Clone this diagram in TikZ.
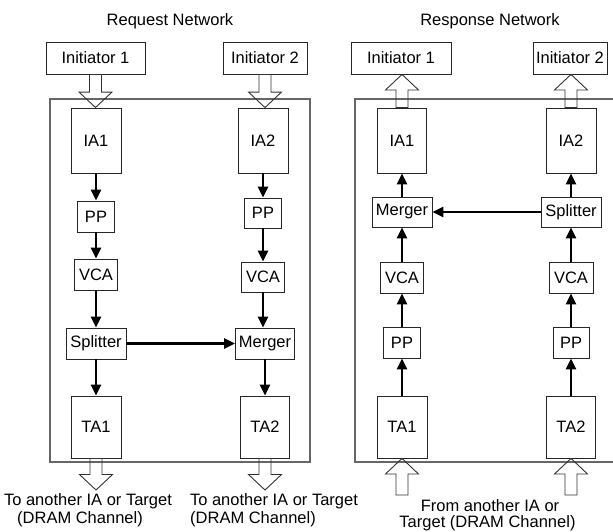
\documentclass[tikz,border=0pt]{standalone}
\usepackage{fontspec}
\setmainfont{Liberation Sans}
\usetikzlibrary{arrows.meta,calc}

% hollow block arrow from point #1 to tip #2 (vertical), drawn along x of #1
\newcommand\blockarrow[2]{%
  \draw[hollow] let \p1=#1, \p2=#2, \n1={(\y2>\y1)?1:-1} in
    ({\x1-6pt},\y1) -- ({\x1-6pt},{\y2-(\n1)*15.5pt})
    -- ({\x1-16.5pt},{\y2-(\n1)*15.5pt}) -- (\x1,\y2)
    -- ({\x1+16.5pt},{\y2-(\n1)*15.5pt}) -- ({\x1+6pt},{\y2-(\n1)*15.5pt})
    -- ({\x1+6pt},\y1) -- cycle;}

\begin{document}
\begin{tikzpicture}[x=1pt,y=-1pt,
  every node/.style={font=\fontsize{16.5}{19}\selectfont},
  box/.style={draw=black!85, line width=0.9pt, fill=white, inner sep=0pt},
  frame/.style={draw=black!60, line width=1.6pt},
  flow/.style={line width=2.8pt, -{Triangle[length=11pt,width=10pt]}},
  hollow/.style={draw=black!80, line width=0.9pt},
  title/.style={anchor=base}]
\useasboundingbox (0,0) rectangle (613,531);

% ---------------- Request network ----------------
\draw[frame] (50,99) rectangle (310,462);
\node[title] (tq) at (170,25) {Request Network};

\node[box, minimum width=99pt, minimum height=32pt] (qi1) at (95.5,58) {Initiator 1};
\node[box, minimum width=84pt, minimum height=32pt] (qi2) at (265,58) {Initiator 2};

\node[box, minimum width=50pt, minimum height=65pt] (qia1) at (96,140.5) {IA1};
\node[box, minimum width=50pt, minimum height=65pt] (qia2) at (263,140.5) {IA2};
\node[box, minimum width=37pt, minimum height=31pt] (qpp1) at (96,216.5) {PP};
\node[box, minimum width=37pt, minimum height=30pt] (qpp2) at (263,213) {PP};
\node[box, minimum width=43pt, minimum height=31pt] (qvca1) at (96,274.5) {VCA};
\node[box, minimum width=43pt, minimum height=30pt] (qvca2) at (263,277) {VCA};
\node[box, minimum width=60pt, minimum height=31pt] (qsp) at (96,343.5) {Splitter};
\node[box, minimum width=59pt, minimum height=31pt] (qme) at (265,343.5) {Merger};
\node[box, minimum width=50pt, minimum height=62pt] (qta1) at (96,427) {TA1};
\node[box, minimum width=49pt, minimum height=62pt] (qta2) at (265,427) {TA2};

\draw[flow] (qia1.south) -- (qia1.south |- qpp1.north);
\draw[flow] (qpp1.south) -- (qpp1.south |- qvca1.north);
\draw[flow] (qvca1.south) -- (qvca1.south |- qsp.north);
\draw[flow] (qsp.south) -- (qsp.south |- qta1.north);
\draw[flow] (qia2.south) -- (qia2.south |- qpp2.north);
\draw[flow] (qpp2.south) -- (qpp2.south |- qvca2.north);
\draw[flow] (qvca2.south) -- (qvca2.south |- qme.north);
\draw[flow] (qme.south) -- (qme.south |- qta2.north);
\draw[flow] (qsp.east) -- (qme.west);

\coordinate (qout1) at (96,490);
\coordinate (qout2) at (265,490);
\blockarrow{(qi1.south)}{(qia1.north)}
\blockarrow{(qi2.south)}{(qia2.north)}
\blockarrow{(qta1.south)}{(qout1)}
\blockarrow{(qta2.south)}{(qout2)}

\node[anchor=base] (qt1a) at (88,505) {To another IA or Target};
\node[anchor=base] (qt1b) at (80,523.5) {(DRAM Channel)};
\node[anchor=base] (qt2a) at (274,505) {To another IA or Target};
\node[anchor=base] (qt2b) at (253,523.5) {(DRAM Channel)};

% ---------------- Response network ----------------
\draw[frame] (355,99) rectangle (617,462);
\node[title] (tr) at (490,25) {Response Network};

\node[box, minimum width=100pt, minimum height=32pt] (ri1) at (401,58) {Initiator 1};
\node[box, minimum width=74pt, minimum height=32pt] (ri2) at (570,58) {Initiator 2};

\node[box, minimum width=49pt, minimum height=65pt] (ria1) at (402,140.5) {IA1};
\node[box, minimum width=50pt, minimum height=65pt] (ria2) at (571,140.5) {IA2};
\node[box, minimum width=60pt, minimum height=30pt] (rme) at (402,212) {Merger};
\node[box, minimum width=60pt, minimum height=30pt] (rsp) at (571,212) {Splitter};
\node[box, minimum width=43pt, minimum height=31pt] (rvca1) at (402,277.5) {VCA};
\node[box, minimum width=44pt, minimum height=31pt] (rvca2) at (571,277.5) {VCA};
\node[box, minimum width=37pt, minimum height=31pt] (rpp1) at (402,342.5) {PP};
\node[box, minimum width=36pt, minimum height=31pt] (rpp2) at (571,342.5) {PP};
\node[box, minimum width=50pt, minimum height=62pt] (rta1) at (402,427) {TA1};
\node[box, minimum width=49pt, minimum height=62pt] (rta2) at (571,427) {TA2};

\draw[flow] (rta1.north) -- (rta1.north |- rpp1.south);
\draw[flow] (rpp1.north) -- (rpp1.north |- rvca1.south);
\draw[flow] (rvca1.north) -- (rvca1.north |- rme.south);
\draw[flow] (rme.north) -- (rme.north |- ria1.south);
\draw[flow] (rta2.north) -- (rta2.north |- rpp2.south);
\draw[flow] (rpp2.north) -- (rpp2.north |- rvca2.south);
\draw[flow] (rvca2.north) -- (rvca2.north |- rsp.south);
\draw[flow] (rsp.north) -- (rsp.north |- ria2.south);
\draw[flow] (rsp.west) -- (rme.east);

\coordinate (rin1) at (402,495);
\coordinate (rin2) at (571,495);
\blockarrow{(ria1.north)}{(ri1.south)}
\blockarrow{(ria2.north)}{(ri2.south)}
\blockarrow{(rin1)}{(rta1.south)}
\blockarrow{(rin2)}{(rta2.south)}

\node[anchor=base] (rt1) at (490,511.5) {From another IA or};
\node[anchor=base] (rt2) at (487.5,527.5) {Target (DRAM Channel)};
\end{tikzpicture}
\end{document}
